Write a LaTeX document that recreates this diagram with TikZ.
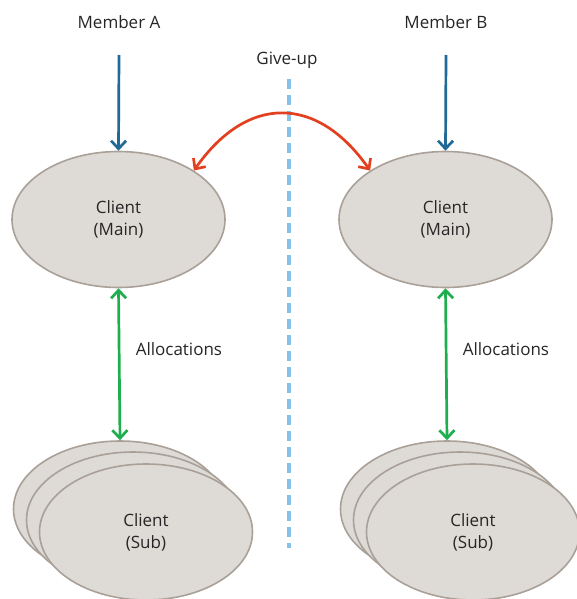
\documentclass[tikz,border=0pt]{standalone}
\usepackage{fontspec}
\setmainfont{Open Sans}
\usetikzlibrary{shapes.geometric,arrows.meta}

\definecolor{clientfill}{HTML}{DEDAD6}
\definecolor{clientline}{HTML}{A9A098}
\definecolor{memberblue}{HTML}{1F6A96}
\definecolor{giveupred}{HTML}{E2401F}
\definecolor{allocgreen}{HTML}{1DAE4E}
\definecolor{splitblue}{HTML}{85C1E9}

\tikzset{
    client/.style={shape=ellipse,draw=clientline,fill=clientfill,line width=1.6pt,
        minimum width=213pt,minimum height=136pt,align=center,inner sep=0pt},
    label/.style={font=\fontsize{17}{20}\selectfont,text=black!85,align=center},
    tip/.style={-{Straight Barb[length=8pt,width=15pt,line width=2.7pt]},line width=2.7pt},
    both/.style={{Straight Barb[length=8pt,width=15pt,line width=2.7pt]}-{Straight Barb[length=8pt,width=15pt,line width=2.7pt]},line width=2.7pt}
}

\begin{document}
\begin{tikzpicture}[x=1pt,y=-1pt]
    \useasboundingbox (0,0) rectangle (576,599);

    % members and main clients
    \node[label] (memA) at (119,22) {Member A};
    \node[label] (memB) at (446,22) {Member B};
    \coordinate (inA) at (119,55);
    \coordinate (inB) at (446,55);
    \node[client,label] (mainA) at (118.5,219.5) {Client\\[2pt](Main)};
    \node[client,label] (mainB) at (445.5,219.5) {Client\\[2pt](Main)};

    % give-up split
    \node[label] (giveup) at (287,60) {Give-up};
    \coordinate (splitTop) at (289,79);
    \coordinate (splitBot) at (289,548);
    \draw[splitblue,line width=4pt,dash pattern=on 10pt off 6pt] (splitTop) -- (splitBot);

    % sub clients
    \node[client] (subA1) at (120,509) {};
    \node[client] (subA2) at (133,520) {};
    \node[client,label] (subA) at (146,532) {Client\\[2pt](Sub)};
    \node[client] (subB1) at (447,509) {};
    \node[client] (subB2) at (460,520) {};
    \node[client,label] (subB) at (473,532) {Client\\[2pt](Sub)};

    % connectors
    \draw[tip,memberblue] (inA) -- (mainA.north);
    \draw[tip,memberblue] (inB) -- (mainB.north);
    \draw[both,giveupred] (mainA.33) to[out=55,in=125,looseness=1.35] (mainB.147);
    \draw[both,allocgreen] (mainA.south) -- (subA1.north)
        node[label,pos=0.4,right=12pt] (allocA) {Allocations};
    \draw[both,allocgreen] (mainB.south) -- (subB1.north)
        node[label,pos=0.4,right=12pt] (allocB) {Allocations};
\end{tikzpicture}
\end{document}
